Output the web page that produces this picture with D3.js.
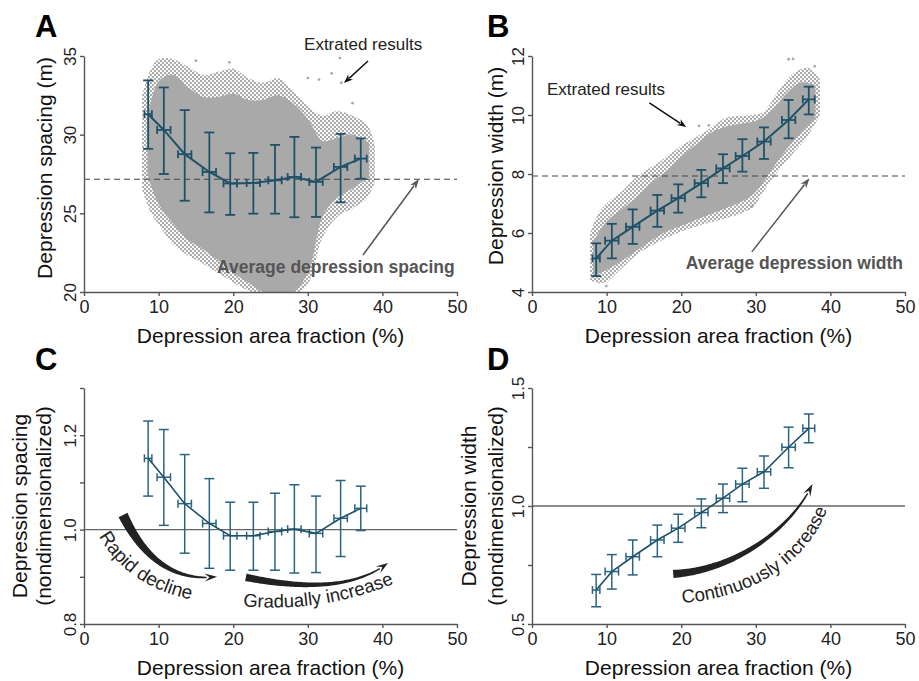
<!DOCTYPE html>
<html><head><meta charset="utf-8">
<script src="https://cdn.jsdelivr.net/npm/d3@7"></script>
<style>
body{margin:0;background:#fff}
text{font-family:"Liberation Sans",Arial,Helvetica,sans-serif}
</style>
</head><body>
<svg id="chart" width="919" height="681"></svg>
<script>
// ---------------- DATA ----------------
const areaFraction = [8.6, 10.7, 13.5, 16.8, 19.6, 22.7, 25.6, 28.2, 31.1, 34.4, 37.1];
const xErr = [0.5, 0.9, 0.9, 0.9, 0.9, 0.9, 0.9, 0.9, 0.9, 0.9, 0.8];
const xTicks = [0, 10, 20, 30, 40, 50];

// A: spacing (m)
const spacingMean = [31.3, 30.3, 28.76, 27.63, 26.9, 26.93, 27.1, 27.31, 27.0, 27.95, 28.48];
const spacingLow  = [29.1, 27.5, 25.8, 25.06, 24.9, 24.98, 24.98, 24.75, 24.77, 25.7, 27.2];
const spacingHigh = [33.45, 33.0, 31.56, 30.14, 28.82, 28.84, 29.35, 29.86, 29.18, 30.05, 29.76];
const spacingAverage = 27.17;
const spacingTicks = [20, 25, 30, 35];
// scatter envelope of extracted results (A)
const spacingCloudX    = [7.8, 9, 10, 12, 14, 16, 18, 20, 22, 24, 26, 28, 30, 32, 34, 36, 38, 39];
const spacingCloudLow  = [26.5, 25, 24.3, 23, 22.3, 21.8, 21.2, 20.6, 20.1, 19.8, 19.8, 19.8, 20.5, 23.5, 24.8, 25.3, 26.0, 27];
const spacingCloudHigh = [32.5, 34.2, 34.8, 34.8, 34.3, 33.8, 34.0, 34.2, 33.6, 33.3, 33.6, 32.8, 31.8, 31.2, 31.5, 31.2, 30.6, 29.3];
const spacingCoreX    = [8.5, 10, 12, 14, 16, 18, 20, 22, 24, 26, 28, 30, 32, 34, 36, 38.2];
const spacingCoreLow  = [27.5, 25.6, 24.3, 23.3, 22.7, 22.0, 21.2, 20.6, 20.0, 19.9, 20.0, 21.2, 24.8, 26.0, 26.6, 27.3];
const spacingCoreHigh = [31.0, 33.4, 33.8, 33.0, 32.4, 32.4, 32.6, 32.2, 32.2, 32.5, 32.0, 31.0, 29.6, 29.8, 30.0, 29.5];
const spacingOutX = [34.3, 34.5, 33.2, 36.0, 30.0, 31.5, 19.5, 15.0];
const spacingOutY = [34.87, 33.3, 33.9, 32.0, 33.6, 33.5, 34.6, 34.7];

// B: width (m)
const widthMean = [5.14, 5.74, 6.21, 6.76, 7.18, 7.69, 8.19, 8.61, 9.1, 9.83, 10.53];
const widthLow  = [4.54, 5.14, 5.63, 6.21, 6.69, 7.21, 7.69, 8.08, 8.51, 9.21, 10.02];
const widthHigh = [5.65, 6.31, 6.8, 7.29, 7.65, 8.14, 8.67, 9.18, 9.58, 10.51, 10.96];
const widthAverage = 7.93;
const widthTicks = [4, 6, 8, 10, 12];
const widthCloudX    = [7.8, 9, 10, 12, 14, 17, 20, 23, 26, 29.5, 31, 33, 35, 37, 38.6];
const widthCloudLow  = [4.4, 4.3, 4.35, 4.8, 5.25, 5.7, 6.05, 6.3, 6.5, 6.85, 7.4, 8.1, 8.7, 9.3, 10.0];
const widthCloudHigh = [6.0, 6.7, 7.0, 7.4, 7.9, 8.4, 8.95, 9.4, 9.9, 10.0, 10.1, 10.8, 11.4, 11.6, 11.2];
const widthCoreX    = [8.2, 10, 12, 14, 16, 18, 20, 22, 24, 26, 28, 30, 32, 34, 36, 38];
const widthCoreLow  = [4.55, 4.75, 5.05, 5.4, 5.75, 6.05, 6.25, 6.45, 6.65, 6.85, 7.05, 7.4, 8.1, 8.8, 9.4, 9.9];
const widthCoreHigh = [5.7, 6.4, 6.8, 7.2, 7.7, 8.1, 8.6, 9.0, 9.4, 9.6, 9.7, 9.8, 10.1, 10.7, 11.1, 11.0];
const widthOutX = [9.96, 22.4, 23.7, 34.4, 35.0, 29.5, 37.9];
const widthOutY = [4.2, 9.63, 9.65, 11.89, 11.9, 6.9, 11.65];

// C: spacing (nondimensionalized)
const nSpacingMean = [1.151, 1.111, 1.055, 1.013, 0.987, 0.987, 0.996, 1.001, 0.992, 1.024, 1.045];
const nSpacingLow  = [1.071, 1.009, 0.950, 0.918, 0.914, 0.914, 0.914, 0.908, 0.909, 0.943, 0.998];
const nSpacingHigh = [1.230, 1.212, 1.159, 1.108, 1.058, 1.058, 1.077, 1.095, 1.071, 1.104, 1.092];
const nSpacingTicks = [0.8, 0.9, 1.0, 1.1, 1.2, 1.3];
const nSpacingTickLabels = ["0.8", "", "1.0", "", "1.2", ""];

// D: width (nondimensionalized)
const nWidthMean = [0.644, 0.722, 0.785, 0.856, 0.906, 0.972, 1.033, 1.093, 1.145, 1.249, 1.329];
const nWidthLow  = [0.573, 0.648, 0.708, 0.785, 0.846, 0.908, 0.972, 1.018, 1.075, 1.162, 1.268];
const nWidthHigh = [0.710, 0.794, 0.856, 0.919, 0.965, 1.030, 1.093, 1.160, 1.212, 1.334, 1.390];
const nWidthTicks = [0.5, 0.75, 1.0, 1.25, 1.5];
const nWidthTickLabels = ["0.5", "", "1.0", "", "1.5"];

// ---------------- DRAW ----------------
const svg = d3.select("#chart");
const TEAL = "#1f5169";
const AX = "#555";
const W = 373, H = 236;
const GRAY = "#a9a9a9";

const defs = svg.append("defs");
const pat = defs.append("pattern").attr("id", "dots").attr("width", 4).attr("height", 4)
  .attr("patternUnits", "userSpaceOnUse");
pat.append("circle").attr("cx", 1).attr("cy", 1).attr("r", 1.2).attr("fill", GRAY);
pat.append("circle").attr("cx", 3).attr("cy", 3).attr("r", 1.2).attr("fill", GRAY);

function bezPoint(p, t) {
  const u = 1 - t;
  if (p.length === 3) {
    return [u*u*p[0][0] + 2*u*t*p[1][0] + t*t*p[2][0], u*u*p[0][1] + 2*u*t*p[1][1] + t*t*p[2][1]];
  }
  return [u*u*u*p[0][0] + 3*u*u*t*p[1][0] + 3*u*t*t*p[2][0] + t*t*t*p[3][0],
          u*u*u*p[0][1] + 3*u*u*t*p[1][1] + 3*u*t*t*p[2][1] + t*t*t*p[3][1]];
}
function bezPathD(p) {
  if (p.length === 3) return `M${p[0]}Q${p[1]} ${p[2]}`;
  return `M${p[0]}C${p[1]} ${p[2]} ${p[3]}`;
}
function taperArrow(g, p, w0, w1, L, Wh, color) {
  const N = 80, s = [], cum = [0];
  for (let i = 0; i <= N; i++) s.push(bezPoint(p, i / N));
  for (let i = 1; i <= N; i++) cum.push(cum[i-1] + Math.hypot(s[i][0]-s[i-1][0], s[i][1]-s[i-1][1]));
  const stop = cum[N] - L;
  const idx = s.map((d, i) => i).filter(i => cum[i] <= stop);
  const left = [], right = [];
  idx.forEach(i => {
    const a = s[Math.max(0, i-1)], b = s[Math.min(N, i+1)];
    const dx = b[0]-a[0], dy = b[1]-a[1], len = Math.hypot(dx, dy);
    const nx = -dy/len, ny = dx/len;
    const w = w0 + (w1 - w0) * (cum[i] / stop);
    left.push([s[i][0] + nx*w/2, s[i][1] + ny*w/2]);
    right.push([s[i][0] - nx*w/2, s[i][1] - ny*w/2]);
  });
  const poly = left.concat(right.reverse());
  g.append("path").attr("d", "M" + poly.map(q => q.join(",")).join("L") + "Z").attr("fill", color);
  const base = s[idx[idx.length-1]], tip = s[N];
  const dx = tip[0]-base[0], dy = tip[1]-base[1], len = Math.hypot(dx, dy);
  const ux = dx/len, uy = dy/len, nx = -uy, ny = ux;
  const back = [base[0] - ux*2, base[1] - uy*2];
  const head = [tip, [back[0]+nx*Wh/2, back[1]+ny*Wh/2], [base[0]+ux*L*0.3, base[1]+uy*L*0.3], [back[0]-nx*Wh/2, back[1]-ny*Wh/2]];
  g.append("path").attr("d", "M" + head.map(q => q.join(",")).join("L") + "Z").attr("fill", color);
}
function straightArrow(g, a, b, color, L, Wh, sw) {
  const dx = b[0]-a[0], dy = b[1]-a[1], len = Math.hypot(dx, dy);
  const ux = dx/len, uy = dy/len, nx = -uy, ny = ux;
  const base = [b[0]-ux*L, b[1]-uy*L];
  g.append("line").attr("x1", a[0]).attr("y1", a[1]).attr("x2", base[0]+ux*2).attr("y2", base[1]+uy*2)
    .attr("stroke", color).attr("stroke-width", sw);
  const head = [b, [base[0]+nx*Wh/2, base[1]+ny*Wh/2], [base[0]+ux*L*0.3, base[1]+uy*L*0.3], [base[0]-nx*Wh/2, base[1]-ny*Wh/2]];
  g.append("path").attr("d", "M" + head.map(q => q.join(",")).join("L") + "Z").attr("fill", color);
}

function panel(cfg) {
  const g = svg.append("g").attr("transform", `translate(${cfg.left},${cfg.top})`);
  const x = d3.scaleLinear().domain([0, 50]).range([0, W]);
  const y = d3.scaleLinear().domain(cfg.yDomain).range([H, 0]);
  const clipId = "clip" + cfg.key;
  defs.append("clipPath").attr("id", clipId).append("rect").attr("x", 0).attr("y", -20).attr("width", W).attr("height", H + 20);

  // scatter cloud of extracted results
  if (cfg.cloud) {
    const cg = g.append("g").attr("clip-path", `url(#${clipId})`);
    const area = d3.area().curve(d3.curveCatmullRom).x(d => x(d[0])).y0(d => y(d[1])).y1(d => y(d[2]));
    cg.append("path").datum(d3.zip(cfg.cloud.x, cfg.cloud.low, cfg.cloud.high))
      .attr("d", area).attr("fill", "url(#dots)");
    cg.append("path").datum(d3.zip(cfg.core.x, cfg.core.low, cfg.core.high))
      .attr("d", area).attr("fill", GRAY);
    cg.selectAll("circle.out").data(d3.zip(cfg.out.x, cfg.out.y)).join("circle")
      .attr("cx", d => x(d[0])).attr("cy", d => y(d[1])).attr("r", 1.4).attr("fill", GRAY);
  }

  // reference line
  g.append("line").attr("x1", x(0)).attr("x2", x(50)).attr("y1", y(cfg.ref)).attr("y2", y(cfg.ref))
    .attr("stroke", cfg.dashed ? "#444" : "#666").attr("stroke-width", cfg.dashed ? 1.1 : 1.3)
    .attr("stroke-dasharray", cfg.dashed ? "6,4" : null);

  // axes
  const xa = g.append("g").attr("transform", `translate(0,${H})`)
    .call(d3.axisBottom(x).tickValues(xTicks).tickSize(4).tickSizeOuter(0).tickPadding(4));
  xa.selectAll("text").attr("font-size", 18).attr("fill", "#222").attr("font-family", '"Liberation Sans",Arial,sans-serif');
  const ya = g.append("g")
    .call(d3.axisLeft(y).tickValues(cfg.yTicks).tickSize(4).tickSizeOuter(0)
      .tickFormat((d, i) => cfg.yLabels ? cfg.yLabels[i] : d3.format("d")(d)));
  ya.selectAll("text").attr("transform", "rotate(-90)").attr("x", 0).attr("y", -8).attr("dy", 0)
    .attr("text-anchor", "middle").attr("font-size", 17).attr("fill", "#222")
    .attr("font-family", '"Liberation Sans",Arial,sans-serif');
  [xa, ya].forEach(a => {
    a.select(".domain").attr("stroke", AX).attr("stroke-width", 1.4);
    a.selectAll(".tick line").attr("stroke", AX).attr("stroke-width", 1.4);
  });

  // titles
  g.append("text").attr("x", W/2).attr("y", H + 51).attr("text-anchor", "middle")
    .attr("font-size", 21).attr("fill", "#111").text("Depression area fraction (%)");
  cfg.yTitle.forEach((t, i) => {
    g.append("text").attr("transform", `translate(${cfg.yTitleX[i]},${cfg.yTitleY}) rotate(-90)`)
      .attr("text-anchor", "middle").attr("font-size", 21).attr("fill", "#111").text(t);
  });
  g.append("text").attr("x", cfg.letterX).attr("y", cfg.letterY).attr("font-size", 31)
    .attr("font-weight", "bold").attr("fill", "#000").text(cfg.key);

  // data: line + error bars
  const pts = d3.range(areaFraction.length).map(i => ({
    x: areaFraction[i], y: cfg.mean[i], lo: cfg.low[i], hi: cfg.high[i], xe: xErr[i]
  }));
  const eg = g.append("g").attr("stroke", cfg.errColor).attr("stroke-width", cfg.ew).attr("fill", "none");
  const capV = 5, capH = 4;
  pts.forEach(p => {
    const px = x(p.x);
    eg.append("line").attr("x1", px).attr("x2", px).attr("y1", y(p.lo)).attr("y2", y(p.hi));
    eg.append("line").attr("x1", px - capV).attr("x2", px + capV).attr("y1", y(p.lo)).attr("y2", y(p.lo));
    eg.append("line").attr("x1", px - capV).attr("x2", px + capV).attr("y1", y(p.hi)).attr("y2", y(p.hi));
    const py = y(p.y);
    eg.append("line").attr("x1", x(p.x - p.xe)).attr("x2", x(p.x + p.xe)).attr("y1", py).attr("y2", py);
    eg.append("line").attr("x1", x(p.x - p.xe)).attr("x2", x(p.x - p.xe)).attr("y1", py - capH).attr("y2", py + capH);
    eg.append("line").attr("x1", x(p.x + p.xe)).attr("x2", x(p.x + p.xe)).attr("y1", py - capH).attr("y2", py + capH);
  });
  g.append("path").datum(pts).attr("fill", "none").attr("stroke", TEAL).attr("stroke-width", cfg.lw)
    .attr("d", d3.line().x(d => x(d.x)).y(d => y(d.y)));

  return {g, x, y};
}

// ---- Panel A
const A = panel({key: "A", left: 84, top: 56, yDomain: [20, 35], yTicks: spacingTicks,
  mean: spacingMean, low: spacingLow, high: spacingHigh, ref: spacingAverage, dashed: true,
  cloud: {x: spacingCloudX, low: spacingCloudLow, high: spacingCloudHigh},
  core: {x: spacingCoreX, low: spacingCoreLow, high: spacingCoreHigh},
  out: {x: spacingOutX, y: spacingOutY},
  yTitle: ["Depression spacing (m)"], yTitleX: [-32], yTitleY: 112,
  letterX: -49, letterY: -19, errColor: TEAL, ew: 1.8, lw: 2});
A.g.append("text").attr("x", A.x(29.5)).attr("y", A.y(35.38)).attr("font-size", 17).attr("fill", "#222").text("Extrated results");
straightArrow(A.g, [A.x(38.07), A.y(34.68)], [A.x(34.85), A.y(33.28)], "#111", 9, 7, 1.5);
A.g.append("text").attr("x", A.x(49.7)).attr("y", A.y(21.2)).attr("text-anchor", "end").attr("font-size", 17.5)
  .attr("font-weight", "bold").attr("fill", "#555").text("Average depression spacing");
straightArrow(A.g, [A.x(37.4), A.y(22.35)], [A.x(44.9), A.y(27.18)], "#555", 10, 7, 1.5);

// ---- Panel B
const B = panel({key: "B", left: 532, top: 56, yDomain: [4, 12], yTicks: widthTicks,
  mean: widthMean, low: widthLow, high: widthHigh, ref: widthAverage, dashed: true,
  cloud: {x: widthCloudX, low: widthCloudLow, high: widthCloudHigh},
  core: {x: widthCoreX, low: widthCoreLow, high: widthCoreHigh},
  out: {x: widthOutX, y: widthOutY},
  yTitle: ["Depression width (m)"], yTitleX: [-29], yTitleY: 110,
  letterX: -45, letterY: -19, errColor: TEAL, ew: 1.8, lw: 2});
B.g.append("text").attr("x", B.x(2.0)).attr("y", B.y(10.68)).attr("font-size", 17).attr("fill", "#222").text("Extrated results");
straightArrow(B.g, [B.x(15.73), B.y(10.41)], [B.x(20.67), B.y(9.59)], "#111", 9, 7, 1.5);
B.g.append("text").attr("x", B.x(49.73)).attr("y", B.y(4.78)).attr("text-anchor", "end").attr("font-size", 17.5)
  .attr("font-weight", "bold").attr("fill", "#555").text("Average depression width");
straightArrow(B.g, [B.x(29.47), B.y(5.36)], [B.x(37.2), B.y(7.86)], "#555", 10, 7, 1.5);

// ---- Panel C
const C = panel({key: "C", left: 84, top: 388, yDomain: [0.8, 1.3], yTicks: nSpacingTicks, yLabels: nSpacingTickLabels,
  mean: nSpacingMean, low: nSpacingLow, high: nSpacingHigh, ref: 1.0, dashed: false,
  yTitle: ["Depression spacing", "(nondimensionalized)"], yTitleX: [-57, -33], yTitleY: 118,
  letterX: -49, letterY: -18, errColor: "#2a6480", ew: 1.5, lw: 1.6});
{
  const P = (a, b) => [C.x(a), C.y(b)];
  taperArrow(C.g, [P(5.23, 1.031), P(9.65, 0.885), P(17.83, 0.900)], 10, 1.4, 10, 8, "#222");
  taperArrow(C.g, [P(21.7, 0.899), P(34.7, 0.856), P(40.75, 0.929)], 7.5, 1.4, 10, 8, "#222");
  defs.append("path").attr("id", "tpC1").attr("d", bezPathD([P(2.0, 0.986), P(6.17, 0.868), P(16.6, 0.846)].map(q => [q[0]+84, q[1]+388])));
  defs.append("path").attr("id", "tpC2").attr("d", bezPathD([P(21.3, 0.838), P(31.7, 0.822), P(41.8, 0.887)].map(q => [q[0]+84, q[1]+388])));
  svg.append("text").attr("font-size", 19).attr("fill", "#222").append("textPath").attr("href", "#tpC1").text("Rapid decline");
  svg.append("text").attr("font-size", 18.5).attr("fill", "#222").append("textPath").attr("href", "#tpC2").text("Gradually increase");
}

// ---- Panel D
const D = panel({key: "D", left: 532, top: 388, yDomain: [0.5, 1.5], yTicks: nWidthTicks, yLabels: nWidthTickLabels,
  mean: nWidthMean, low: nWidthLow, high: nWidthHigh, ref: 1.0, dashed: false,
  yTitle: ["Depression width", "(nondimensionalized)"], yTitleX: [-56, -29], yTitleY: 118,
  letterX: -45, letterY: -18, errColor: "#2a6480", ew: 1.5, lw: 1.6});
{
  const P = (a, b) => [D.x(a), D.y(b)];
  taperArrow(D.g, [P(18.93, 0.712), P(27.73, 0.729), P(35.07, 0.919), P(37.6, 1.093)], 8, 1.4, 10, 8, "#222");
  defs.append("path").attr("id", "tpD1").attr("d", bezPathD([P(20.13, 0.589), P(29.07, 0.610), P(37.33, 0.750), P(40.0, 1.025)].map(q => [q[0]+532, q[1]+388])));
  svg.append("text").attr("font-size", 18.5).attr("fill", "#222").append("textPath").attr("href", "#tpD1").text("Continuously increase");
}
</script>
</body></html>
